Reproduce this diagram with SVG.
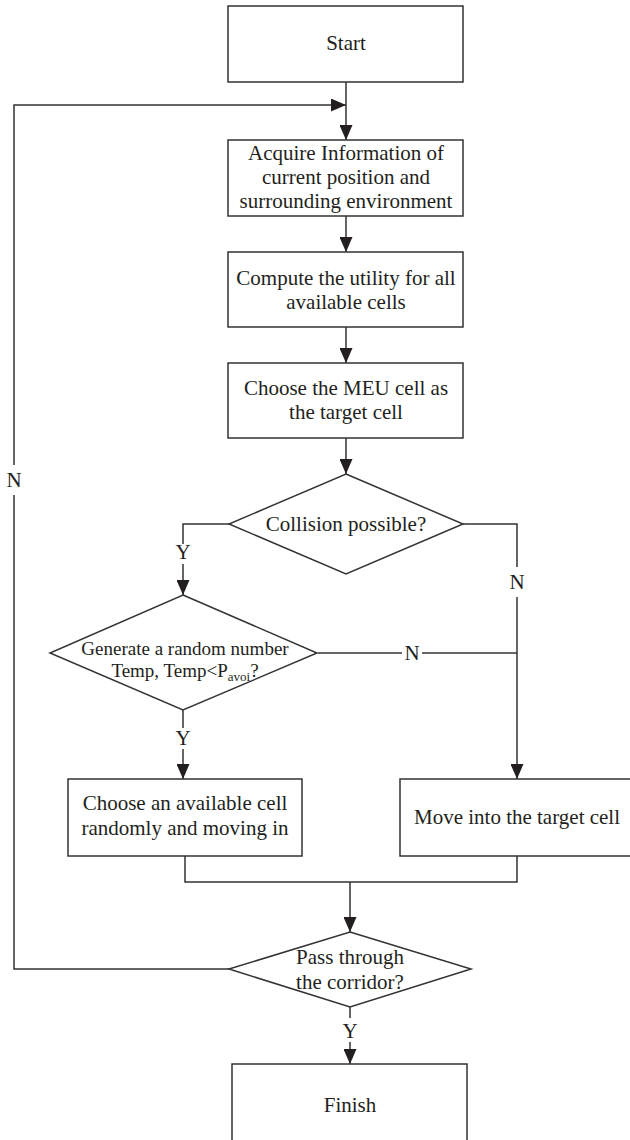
<svg xmlns="http://www.w3.org/2000/svg" width="630" height="1140" viewBox="0 0 630 1140">
<defs>
<style>
.box{fill:#fff;stroke:#333;stroke-width:1.5}
.ln{fill:none;stroke:#333;stroke-width:1.5}
.t{font-family:"Liberation Serif","Times New Roman",serif;font-size:21px;fill:#231f20;text-anchor:middle}
.s{font-size:19px}
</style>
<marker id="ah" markerUnits="userSpaceOnUse" markerWidth="15" markerHeight="13" refX="15" refY="6.5" orient="auto">
<path d="M0,0 L15,6.5 L0,13 z" fill="#231f20"/>
</marker>
</defs>
<rect width="630" height="1140" fill="#fff"/>
<g id="connectors">
<path class="ln" d="M346,82 V140" marker-end="url(#ah)"/>
<path class="ln" d="M229,969 H14 V495"/>
<path class="ln" d="M14,465 V105 H346" marker-end="url(#ah)"/>
<path class="ln" d="M346,216 V252" marker-end="url(#ah)"/>
<path class="ln" d="M346,327 V363" marker-end="url(#ah)"/>
<path class="ln" d="M346,438 V474" marker-end="url(#ah)"/>
<path class="ln" d="M229,524 H183 V544"/>
<path class="ln" d="M183,564 V595" marker-end="url(#ah)"/>
<path class="ln" d="M463,524 H517 V567"/>
<path class="ln" d="M517,597 V779" marker-end="url(#ah)"/>
<path class="ln" d="M318,653 H402"/>
<path class="ln" d="M422,653 H517"/>
<path class="ln" d="M183,710 V728"/>
<path class="ln" d="M183,749 V779" marker-end="url(#ah)"/>
<path class="ln" d="M185,856 V882 H517 V856"/>
<path class="ln" d="M350,882 V932" marker-end="url(#ah)"/>
<path class="ln" d="M350,1007 V1018"/>
<path class="ln" d="M350,1042 V1064" marker-end="url(#ah)"/>
</g>
<g id="labels">
<text class="t" x="14" y="487">N</text>
<text class="t" x="183" y="559">Y</text>
<text class="t" x="517" y="589">N</text>
<text class="t" x="412" y="660">N</text>
<text class="t" x="183" y="745">Y</text>
<text class="t" x="350" y="1038">Y</text>
</g>
<g id="start">
<rect class="box" x="228" y="6" width="235" height="76"/>
<text class="t" x="346" y="50">Start</text>
</g>
<g id="acquire">
<rect class="box" x="228" y="140" width="235" height="76"/>
<text class="t" x="346" y="160">Acquire Information of</text>
<text class="t" x="346" y="184">current position and</text>
<text class="t" x="346" y="208">surrounding environment</text>
</g>
<g id="compute">
<rect class="box" x="228" y="252" width="235" height="75"/>
<text class="t" x="346" y="285">Compute the utility for all</text>
<text class="t" x="346" y="309">available cells</text>
</g>
<g id="choose-meu">
<rect class="box" x="228" y="363" width="235" height="75"/>
<text class="t" x="346" y="395">Choose the MEU cell as</text>
<text class="t" x="346" y="419">the target cell</text>
</g>
<g id="collision">
<polygon class="box" points="346,474 463,524 346,574 229,524"/>
<text class="t" x="346" y="531">Collision possible?</text>
</g>
<g id="random">
<polygon class="box" points="183,595 317,653 183,710 50,653"/>
<text class="t s" x="185" y="655">Generate a random number</text>
<text class="t s" x="185" y="677">Temp, Temp&lt;P<tspan font-size="13" dy="4">avoi</tspan><tspan dy="-4">?</tspan></text>
</g>
<g id="choose-random">
<rect class="box" x="68" y="779" width="234" height="77"/>
<text class="t" x="185" y="810">Choose an available cell</text>
<text class="t" x="185" y="835">randomly and moving in</text>
</g>
<g id="move">
<rect class="box" x="400" y="779" width="240" height="77"/>
<text class="t" x="517" y="824">Move into the target cell</text>
</g>
<g id="pass">
<polygon class="box" points="350,932 471,969 350,1007 229,969"/>
<text class="t" x="350" y="964">Pass through</text>
<text class="t" x="350" y="989">the corridor?</text>
</g>
<g id="finish">
<rect class="box" x="232" y="1064" width="235" height="86"/>
<text class="t" x="350" y="1112">Finish</text>
</g>
</svg>
